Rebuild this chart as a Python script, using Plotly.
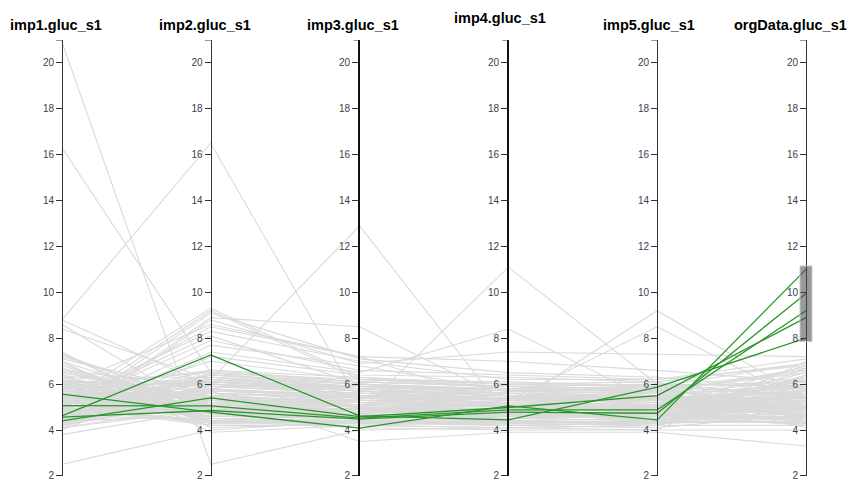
import plotly.graph_objects as go

# Parallel-coordinates view of imputed glucose values (5 imputations + original data)
dimensions = ["imp1.gluc_s1", "imp2.gluc_s1", "imp3.gluc_s1",
              "imp4.gluc_s1", "imp5.gluc_s1", "orgData.gluc_s1"]

imp1 = [
    4.8, 5.2, 6.1, 4.5, 5.7, 5.0, 6.4, 4.2, 5.5, 4.9,
    5.9, 4.6, 5.3, 6.7, 4.4, 5.1, 6.0, 4.7, 5.6, 4.3,
    5.8, 6.2, 4.9, 5.4, 7.3, 4.1, 5.0, 6.5, 5.2, 4.8,
    7.1, 5.5, 4.6, 6.3, 5.9, 4.0, 5.3, 6.9, 4.7, 5.7,
    8.4, 5.1, 6.0, 4.5, 5.4, 7.4, 4.9, 6.6, 5.2, 4.3,
    8.8, 5.8, 4.6, 6.2, 5.0, 3.8, 5.6, 7.0, 4.8, 6.1,
    8.6, 5.3, 4.4, 5.9, 6.4, 4.7, 5.1, 7.2, 5.5, 4.2,
    20.9, 16.3, 2.5, 8.8, 5.4, 6.8, 4.9, 5.7, 6.0, 4.6,
    5.2, 6.3, 4.1, 5.8, 7.3, 5.0, 4.4, 6.5, 5.3, 4.8,
    5.0, 5.6, 4.7, 6.0, 5.3, 4.4, 5.8, 6.3, 4.9, 5.2,
    4.6, 5.5, 6.1, 4.8, 5.7, 4.3, 5.1, 6.6, 5.4, 4.5,
    5.9, 4.2, 5.3, 6.2, 4.7, 5.0, 7.0, 4.9, 5.6, 4.4,
    6.4, 5.1, 4.6, 5.8, 5.2, 4.1, 6.0, 5.5, 4.8, 5.3,
    4.62, 4.40, 5.06, 4.56, 5.56,
]
imp2 = [
    5.3, 4.7, 5.9, 6.2, 4.9, 5.6, 4.4, 6.0, 5.1, 9.2,
    4.6, 5.8, 6.4, 5.0, 8.9, 4.3, 5.5, 6.1, 4.8, 5.2,
    6.6, 4.5, 8.5, 5.7, 5.0, 6.3, 4.2, 5.4, 8.3, 4.9,
    5.6, 6.0, 7.7, 4.7, 5.3, 6.5, 5.1, 4.4, 9.1, 5.8,
    6.2, 4.6, 5.0, 7.4, 5.5, 4.1, 6.4, 5.2, 4.8, 8.8,
    5.9, 6.1, 4.5, 5.3, 7.0, 4.9, 5.7, 3.9, 6.3, 5.0,
    4.7, 5.4, 6.0, 8.6, 4.3, 5.8, 6.6, 5.1, 4.6, 7.2,
    2.5, 6.5, 4.0, 16.5, 5.6, 4.8, 6.2, 5.0, 4.4, 5.9,
    9.3, 5.2, 4.9, 6.1, 4.5, 5.7, 6.4, 5.3, 4.2, 5.0,
    5.5, 4.9, 5.2, 6.0, 4.6, 5.8, 5.0, 6.3, 4.4, 5.6,
    5.1, 4.7, 6.1, 5.4, 4.9, 5.7, 4.3, 5.9, 6.4, 5.0,
    4.8, 5.3, 6.2, 4.5, 5.6, 7.9, 4.9, 5.2, 6.0, 4.6,
    5.4, 8.1, 5.0, 4.4, 5.8, 5.1, 6.5, 4.7, 5.3, 4.8,
    7.27, 5.40, 5.05, 4.85, 4.78,
]
imp3 = [
    5.0, 4.8, 5.6, 5.9, 4.6, 5.3, 4.5, 5.7, 5.1, 6.2,
    4.7, 5.4, 6.0, 4.9, 8.5, 4.4, 5.2, 5.8, 4.6, 5.0,
    6.3, 4.3, 7.2, 5.5, 4.8, 5.9, 4.2, 5.1, 7.0, 4.7,
    5.4, 5.7, 6.8, 4.5, 5.0, 6.1, 4.9, 4.1, 7.1, 5.3,
    5.8, 4.6, 4.8, 6.5, 5.2, 4.3, 6.0, 5.0, 4.7, 6.9,
    5.6, 5.9, 4.4, 5.1, 6.2, 4.8, 3.5, 4.2, 5.7, 4.9,
    4.5, 5.3, 5.6, 7.2, 4.3, 5.5, 6.1, 4.9, 4.6, 6.4,
    4.0, 5.8, 4.4, 5.2, 5.4, 4.7, 12.9, 4.9, 4.3, 5.6,
    6.3, 5.0, 4.7, 5.8, 4.4, 5.5, 6.0, 5.1, 4.2, 4.8,
    5.2, 4.7, 5.5, 5.8, 4.5, 5.0, 4.9, 6.0, 4.3, 5.4,
    4.8, 5.1, 5.7, 4.6, 5.3, 5.6, 4.4, 5.9, 6.1, 4.9,
    4.6, 5.2, 5.5, 4.4, 5.0, 6.6, 4.8, 5.3, 5.7, 4.5,
    5.1, 6.0, 4.7, 4.3, 5.4, 5.0, 6.2, 4.6, 5.2, 4.9,
    4.62, 4.58, 4.52, 4.47, 4.08,
]
imp4 = [
    4.9, 5.1, 5.4, 5.7, 4.6, 5.0, 4.4, 5.5, 4.8, 5.9,
    4.5, 5.2, 5.6, 4.7, 5.3, 4.2, 5.0, 5.8, 4.9, 4.3,
    6.0, 4.6, 5.1, 5.4, 11.1, 5.6, 4.1, 4.9, 6.2, 4.5,
    5.3, 5.0, 5.7, 4.4, 4.8, 5.9, 5.2, 4.0, 6.5, 5.1,
    5.5, 4.7, 4.9, 8.4, 5.0, 4.3, 5.8, 4.8, 4.6, 7.4,
    5.4, 5.6, 4.5, 5.0, 6.1, 4.7, 3.9, 4.4, 5.3, 4.9,
    4.6, 5.2, 5.5, 7.0, 4.2, 5.1, 5.9, 4.8, 4.5, 6.3,
    4.1, 5.6, 4.3, 5.0, 5.2, 4.6, 4.6, 4.9, 4.4, 5.4,
    5.8, 4.8, 4.7, 5.5, 4.3, 5.3, 5.7, 5.0, 4.1, 4.7,
    5.1, 4.6, 5.3, 5.5, 4.7, 4.9, 5.2, 5.7, 4.4, 5.0,
    4.8, 5.4, 5.6, 4.5, 5.1, 5.3, 4.3, 5.8, 5.9, 4.7,
    4.6, 5.0, 5.4, 4.2, 4.9, 6.4, 4.8, 5.2, 5.5, 4.6,
    5.0, 5.7, 4.5, 4.4, 5.3, 4.9, 6.0, 4.7, 5.1, 4.8,
    4.44, 4.98, 4.88, 4.78, 5.05,
]
imp5 = [
    4.8, 5.2, 5.5, 5.6, 4.7, 5.1, 4.3, 5.4, 4.9, 5.8,
    4.6, 5.0, 5.7, 4.5, 5.3, 4.1, 9.2, 5.9, 4.8, 4.4,
    6.1, 4.7, 5.2, 5.3, 6.0, 5.5, 4.2, 5.0, 6.2, 4.6,
    5.4, 4.9, 5.8, 4.3, 4.7, 5.6, 5.1, 4.0, 6.3, 5.2,
    5.3, 4.8, 5.0, 5.2, 4.9, 4.4, 5.7, 4.6, 4.5, 7.3,
    5.5, 5.4, 4.6, 5.1, 5.9, 4.8, 3.9, 4.5, 8.5, 5.0,
    4.7, 5.3, 5.6, 6.6, 4.3, 5.0, 5.8, 4.9, 4.4, 6.1,
    4.2, 5.5, 4.4, 5.1, 5.3, 4.7, 4.5, 5.0, 4.3, 5.4,
    5.7, 4.9, 4.6, 5.4, 4.2, 5.2, 5.9, 5.1, 4.0, 4.8,
    4.9, 4.5, 5.4, 5.3, 4.8, 5.0, 5.1, 5.6, 4.3, 4.9,
    4.7, 5.2, 5.5, 4.6, 5.0, 5.4, 4.4, 5.7, 6.0, 4.8,
    4.5, 5.1, 5.3, 4.3, 5.0, 6.2, 4.7, 5.3, 5.6, 4.5,
    4.9, 5.8, 4.6, 4.2, 5.2, 5.0, 5.9, 4.8, 5.1, 4.4,
    5.87, 5.50, 4.88, 4.73, 4.44,
]
org = [
    5.1, 5.5, 6.0, 4.8, 5.3, 4.6, 5.8, 4.4, 6.3, 5.0,
    4.9, 5.7, 6.6, 4.3, 5.2, 4.7, 5.4, 6.1, 4.5, 5.6,
    6.9, 4.2, 5.0, 5.9, 5.5, 4.8, 6.4, 5.3, 7.1, 4.6,
    5.1, 6.2, 4.9, 5.7, 4.4, 6.7, 5.2, 4.0, 5.8, 5.4,
    4.7, 6.0, 5.5, 4.9, 6.5, 4.3, 5.1, 5.9, 4.6, 7.2,
    5.3, 4.8, 6.2, 5.6, 4.5, 5.0, 3.3, 5.7, 5.2, 6.8,
    4.9, 5.4, 4.1, 6.1, 5.5, 4.7, 5.0, 6.3, 5.8, 4.4,
    5.6, 4.9, 5.3, 6.0, 4.6, 5.2, 5.7, 4.8, 6.4, 5.1,
    4.5, 5.9, 5.0, 5.4, 6.7, 4.3, 5.5, 4.8, 7.0, 5.2,
    5.0, 4.6, 5.7, 5.4, 4.9, 5.2, 6.0, 5.8, 4.5, 5.3,
    4.8, 5.5, 6.2, 4.7, 5.1, 5.6, 4.3, 6.5, 5.9, 4.9,
    4.6, 5.4, 6.1, 4.4, 5.0, 6.8, 4.8, 5.7, 6.3, 4.5,
    5.2, 6.6, 4.7, 4.2, 5.5, 5.1, 6.9, 4.9, 5.3, 4.6,
    8.0, 8.9, 9.2, 9.95, 11.0,
]

# Brushed interval on the orgData axis
brush_range = [7.85, 11.15]
tick_values = [2, 4, 6, 8, 10, 12, 14, 16, 18, 20]
y_range = [1.995, 21]

columns = [imp1, imp2, imp3, imp4, imp5, org]
rows = list(zip(*columns))


def polyline(subset):
    xs, ys = [], []
    for r in subset:
        xs += list(range(len(dimensions))) + [None]
        ys += list(r) + [None]
    return xs, ys


def in_brush(r):
    return brush_range[0] <= r[-1] <= brush_range[1]


selected = [r for r in rows if in_brush(r)]
others = [r for r in rows if not in_brush(r)]

W, H = 853, 481
axis_px = [62, 210.5, 359, 508, 657, 806]
unit = (axis_px[-1] - axis_px[0]) / 5.0
x_left = -axis_px[0] / unit
x_right = (W - axis_px[0]) / unit

fig = go.Figure()
gx, gy = polyline(others)
fig.add_trace(go.Scatter(x=gx, y=gy, mode="lines",
                         line=dict(color="#dadada", width=1.1),
                         hoverinfo="skip", showlegend=False))
sx, sy = polyline(selected)
fig.add_trace(go.Scatter(x=sx, y=sy, mode="lines",
                         line=dict(color="#2a962a", width=1.3),
                         hoverinfo="skip", showlegend=False))

# one transparent anchor trace per extra axis so each axis gets drawn
for i in range(1, len(dimensions)):
    fig.add_trace(go.Scatter(x=[i, i], y=y_range, mode="markers",
                             marker=dict(opacity=0, size=1),
                             yaxis=f"y{i + 1}", hoverinfo="skip",
                             showlegend=False))

layout = dict(
    width=W, height=H,
    margin=dict(l=0, r=0, t=40, b=5),
    paper_bgcolor="white", plot_bgcolor="white",
    xaxis=dict(range=[x_left, x_right], visible=False, fixedrange=True),
)

for i, name in enumerate(dimensions):
    key = "yaxis" if i == 0 else f"yaxis{i + 1}"
    bold = i in (2, 3)
    ax = dict(
        range=y_range, anchor="free", position=axis_px[i] / W,
        side="left", showgrid=False, zeroline=False,
        showline=True, linecolor="#111" if bold else "#333",
        linewidth=2 if bold else 1,
        ticks="outside", ticklen=6, tickwidth=1,
        tickcolor="#333", tickvals=tick_values,
        ticklabeloverflow="allow",
        tickfont=dict(family="Liberation Sans, Arial, sans-serif",
                      size=10, color="#3c3c50"),
        fixedrange=True, layer="above traces",
    )
    if i > 0:
        ax["overlaying"] = "y"
    layout[key] = ax

shapes = []
annotations = []
cap = 6 / unit
title_shift = [-6, -6, -7, -8, -8, -16]
for i, name in enumerate(dimensions):
    # outer tick at the top of each axis
    shapes.append(dict(type="line", xref="x", yref="y",
                       x0=i - cap, x1=i, y0=y_range[1], y1=y_range[1],
                       line=dict(color="#333", width=1)))
    annotations.append(dict(
        x=i, y=y_range[1], xref="x", yref="y", text=f"<b>{name}</b>",
        showarrow=False, xanchor="center", yanchor="middle",
        xshift=title_shift[i], yshift=22 if i == 3 else 15,
        font=dict(family="Liberation Sans, Arial, sans-serif",
                  size=14.5, color="#000")))

# brush rectangle on the orgData axis
bw = 6 / unit
shapes.append(dict(type="rect", xref="x", yref="y", layer="above",
                   x0=5 - bw, x1=5 + bw, y0=brush_range[0], y1=brush_range[1],
                   fillcolor="rgba(70,70,70,0.55)",
                   line=dict(color="#c8c8c8", width=1)))

layout["shapes"] = shapes
layout["annotations"] = annotations
fig.update_layout(**layout)

fig.write_html("out.html", config={"displayModeBar": False})
